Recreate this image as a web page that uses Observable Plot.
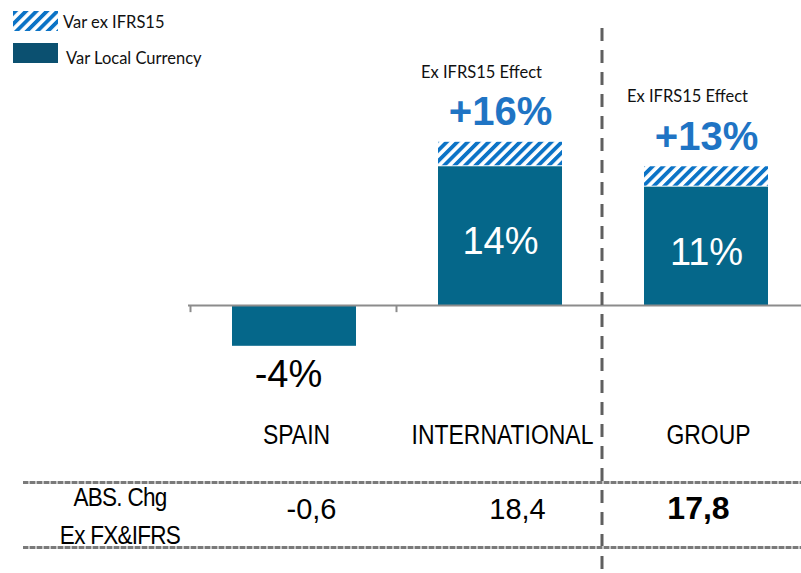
<!DOCTYPE html>
<html><head><meta charset="utf-8">
<script src="https://cdn.jsdelivr.net/npm/d3@7"></script>
<script src="https://cdn.jsdelivr.net/npm/@observablehq/plot@0.6"></script>
<style>
body{margin:0;background:#fff;}
#wrap{position:relative;width:801px;height:573px;overflow:hidden;font-family:"Liberation Sans",Arial,sans-serif;}
#chart{position:absolute;left:0;top:0;}
.leg{position:absolute;font-family:Lato,"Open Sans",sans-serif;font-size:16.5px;color:#111;line-height:20px;white-space:nowrap;}
.tline{position:absolute;left:23px;width:778px;height:3px;background:repeating-linear-gradient(90deg,#7a7a7a 0 5px,#c4c4c4 5px 7px);}
#rowlab{position:absolute;left:30px;width:180px;top:478px;text-align:center;font-family:"Liberation Sans",Arial,sans-serif;font-size:25px;line-height:38px;color:#000;letter-spacing:-0.8px;transform:scaleX(0.9);transform-origin:90px 0;}
</style></head><body>
<div id="wrap">
  <div id="chart"></div>
  <svg class="leg" style="left:13px;top:11px" width="45" height="20"><defs><pattern id="hatchL" patternUnits="userSpaceOnUse" width="7.4" height="7.4" patternTransform="rotate(45)"><rect width="7.4" height="7.4" fill="#fff"/><rect width="3.8" height="7.4" fill="#0b73c6"/></pattern></defs><rect width="45" height="20" fill="url(#hatchL)"/></svg>
  <div class="leg" id="leg1" style="left:63px;top:12px"></div>
  <svg class="leg" style="left:13px;top:43px" width="45" height="20"><rect width="45" height="20" fill="#0b5070"/></svg>
  <div class="leg" id="leg2" style="left:66px;top:48px"></div>
  <div class="tline" style="top:481px"></div>
  <div class="tline" style="top:546px"></div>
  <div id="rowlab"></div>
</div>
<script>
const categories = ["SPAIN", "INTERNATIONAL", "GROUP"];
const localCurrency = [-4.0, 13.6, 11.6];
const exIfrs15 = [null, 16.0, 13.6];
const localLabels = ["-4%", "14%", "11%"];
const exIfrsLabels = [null, "+16%", "+13%"];
const absChg = ["-0,6", "18,4", "17,8"];
const legendLabels = ["Var ex IFRS15", "Var Local Currency"];
const effectLabel = "Ex IFRS15 Effect";
const rowLabel = ["ABS. Chg", "Ex FX&IFRS"];

document.getElementById("leg1").textContent = legendLabels[0];
document.getElementById("leg2").textContent = legendLabels[1];
document.getElementById("rowlab").innerHTML = rowLabel.join("<br>");

const rows = categories.map((c, i) => ({
  cat: c, local: localCurrency[i], ex: exIfrs15[i],
  localLabel: localLabels[i], exLabel: exIfrsLabels[i], abs: absChg[i]
}));
const withEx = rows.filter(d => d.ex != null);
const pos = rows.filter(d => d.local >= 0);
const neg = rows.filter(d => d.local < 0);

const arial = "'Liberation Sans',Arial,sans-serif";

const svg = Plot.plot({
  width: 801, height: 573,
  marginTop: 28, marginBottom: 0, marginLeft: 188, marginRight: 0,
  x: {domain: categories, range: [191, 809], paddingInner: 0.4, paddingOuter: 0.2, axis: null},
  y: {domain: [0, 16], range: [305, 141.8], axis: null},
  style: {background: "transparent", overflow: "visible"},
  marks: [
    Plot.barY(rows, {x: "cat", y1: 0, y2: "local", fill: "#05678a"}),
    Plot.barY(withEx, {x: "cat", y1: "local", y2: "ex", fill: "url(#hatch)", insetBottom: 1}),
    Plot.ruleY([0], {stroke: "#8c8c8c", strokeWidth: 2}),
    Plot.ruleX(["SPAIN", "INTERNATIONAL"], {x: d => d, dx: -104, y1: 0, y2: -0.7, stroke: "#8c8c8c", strokeWidth: 2}),
    Plot.ruleX(["GROUP"], {x: d => d, dx: -104.5, stroke: "#5f5f5f", strokeWidth: 3, strokeDasharray: "13,9"}),
    Plot.text(pos, {x: "cat", y: d => d.local / 2, text: "localLabel", dy: 6, fill: "#fff", fontSize: 38, fontFamily: arial}),
    Plot.text(neg, {x: "cat", y: "local", text: "localLabel", dx: -6, dy: 29, fill: "#000", fontSize: 38, fontFamily: arial}),
    Plot.text(withEx, {x: "cat", y: "ex", text: "exLabel", dy: -30, fill: "#1f74c4", fontSize: 40, fontWeight: "bold", fontFamily: arial}),
    Plot.text(withEx, {x: "cat", y: "ex", text: () => effectLabel, dx: -19, dy: -70, fill: "#111", fontSize: 16.5, fontFamily: "Lato,'Open Sans',sans-serif"}),
    Plot.text(rows, {x: "cat", text: "cat", frameAnchor: "bottom", dx: 2, dy: -130, fill: "#000", fontSize: 27, fontFamily: arial}),
    Plot.text(rows.filter(d => d.cat !== "GROUP"), {x: "cat", text: "abs", frameAnchor: "bottom", dy: -55, dx: 17, fill: "#000", fontSize: 29, fontFamily: arial, letterSpacing: "1.6px"}),
    Plot.text(rows.filter(d => d.cat === "GROUP"), {x: "cat", text: "abs", frameAnchor: "bottom", dy: -55, dx: -8, fill: "#000", fontSize: 32, fontWeight: "bold", fontFamily: arial, letterSpacing: "1.5px"})
  ]
});

const defs = d3.select(svg).insert("defs", ":first-child");
const pat = defs.append("pattern").attr("id", "hatch").attr("patternUnits", "userSpaceOnUse")
  .attr("width", 7.4).attr("height", 7.4).attr("patternTransform", "rotate(45)");
pat.append("rect").attr("width", 7.4).attr("height", 7.4).attr("fill", "#fff");
pat.append("rect").attr("width", 3.8).attr("height", 7.4).attr("fill", "#0b73c6");

function condense(texts, k) {
  d3.select(svg).selectAll("text").filter(function() { return texts.includes(this.textContent); }).each(function() {
    const t = this.getAttribute("transform");
    if (t) this.setAttribute("transform", t + ` scale(${k},1)`);
    else {
      const x = +this.getAttribute("x") || 0;
      this.setAttribute("transform", `translate(${x},0) scale(${k},1) translate(${-x},0)`);
    }
  });
}
condense(categories, 0.85);

document.getElementById("chart").appendChild(svg);
</script>
</body></html>
